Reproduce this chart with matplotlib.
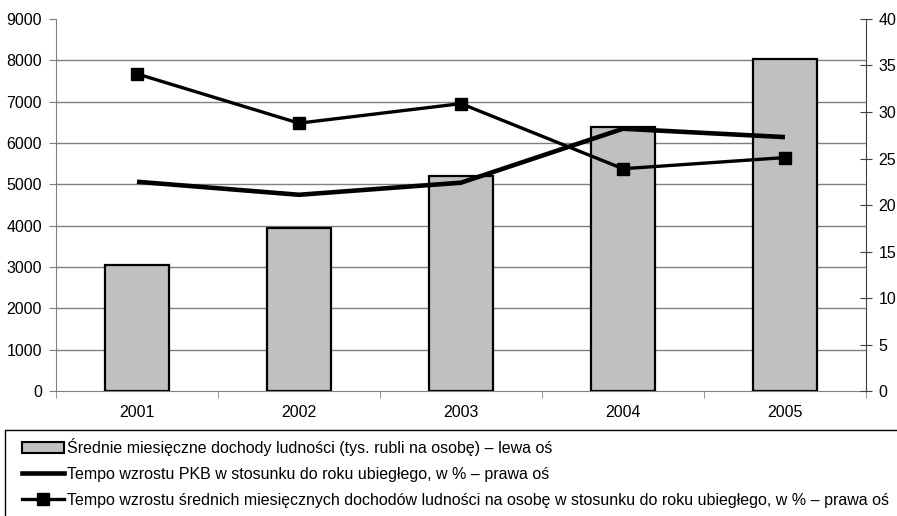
import matplotlib.pyplot as plt
import numpy as np
from matplotlib.patches import Rectangle, Patch
from matplotlib.lines import Line2D

plt.rcParams['font.family'] = ['Liberation Sans', 'DejaVu Sans']

lata = ["2001", "2002", "2003", "2004", "2005"]
dochody = [3050, 3950, 5200, 6390, 8020]           # tys. rubli na osobę
tempo_pkb = [22.5, 21.1, 22.4, 28.2, 27.3]           # %
tempo_dochodow = [34.1, 28.8, 30.9, 23.9, 25.1]      # %

etykiety = [
    "Średnie miesięczne dochody ludności (tys. rubli na osobę) – lewa oś",
    "Tempo wzrostu PKB w stosunku do roku ubiegłego, w % – prawa oś",
    "Tempo wzrostu średnich miesięcznych dochodów ludności na osobę w stosunku do roku ubiegłego, w % – prawa oś",
]

szary = "#808080"
rozmiar = 11.5
x = np.arange(len(lata))

fig = plt.figure(figsize=(8.97, 5.16), dpi=100)
ax = fig.add_axes([0.0624, 0.2422, 0.903, 0.721])

ax.bar(x, dochody, 0.4, color="#c0c0c0", edgecolor="black", linewidth=1.6, zorder=2)
ax.set_xlim(-0.5, len(lata) - 0.5)
ax.set_ylim(0, 9000)
ax.set_yticks(np.arange(0, 9001, 1000))
ax.set_xticks(x)
ax.set_xticklabels(lata)
ax.set_xticks(np.arange(-0.5, len(lata)), minor=True)
ax.tick_params(axis="x", which="major", length=0, labelsize=rozmiar, pad=10)
ax.tick_params(axis="x", which="minor", length=5, color=szary, direction="out")
ax.tick_params(axis="y", length=5, color=szary, labelsize=rozmiar, pad=5)
for y in range(1000, 9000, 1000):
    ax.axhline(y, color=szary, linewidth=1, zorder=1)
for s in ["top", "right"]:
    ax.spines[s].set_visible(False)
ax.spines["left"].set_color(szary)
ax.spines["bottom"].set_color(szary)

ax2 = ax.twinx()
ax2.plot(x, tempo_pkb, color="black", linewidth=3.3, solid_capstyle="butt", zorder=3)
ax2.plot(x, tempo_dochodow, color="black", linewidth=2.4, marker="s", markersize=8.5, zorder=3)
ax2.set_ylim(0, 40)
ax2.set_yticks(np.arange(0, 41, 5))
ax2.tick_params(axis="y", length=8, direction="inout", color="#404040", labelsize=rozmiar, pad=5)
for s in ["top", "left", "bottom"]:
    ax2.spines[s].set_visible(False)
ax2.spines["right"].set_color("#404040")

# ramka legendy
fig.patches.append(Rectangle((5 / 897, -0.05), 1.0, 1.05 - 430 / 516, transform=fig.transFigure,
                             fill=False, edgecolor="black", linewidth=1))

uchwyty = [
    Patch(facecolor="#c0c0c0", edgecolor="black", linewidth=1.5),
    Line2D([], [], color="black", linewidth=3.3),
    Line2D([], [], color="black", linewidth=2.4, marker="s", markersize=8.5),
]
fig.legend(uchwyty, etykiety, loc="upper left", bbox_to_anchor=(22 / 897, 1 - 438 / 516),
           frameon=False, fontsize=rozmiar, handlelength=2.6, handletextpad=0.2,
           labelspacing=0.68, borderpad=0, borderaxespad=0)

fig.savefig("out.png", dpi=100)
